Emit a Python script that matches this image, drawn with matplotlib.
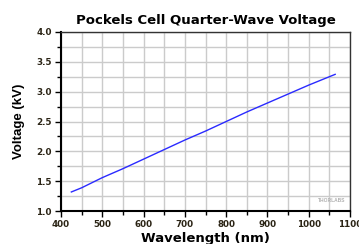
import matplotlib
matplotlib.use("Agg")
import matplotlib.pyplot as plt
from matplotlib.ticker import MultipleLocator

wavelength = [425, 450, 500, 550, 600, 650, 700, 750, 800, 850, 900, 950, 1000, 1064]
voltage = [1.32, 1.39, 1.56, 1.71, 1.87, 2.03, 2.19, 2.34, 2.50, 2.66, 2.81, 2.96, 3.11, 3.29]

plt.rcParams['font.family'] = ['Liberation Sans', 'DejaVu Sans']

fig = plt.figure(figsize=(3.59, 2.44), dpi=100)
ax = fig.add_axes([0.170, 0.135, 0.805, 0.734])

ax.plot(wavelength, voltage, color='#2a2aff', lw=1.0, zorder=3)

ax.set_xlim(400, 1100)
ax.set_ylim(1.0, 4.0)
ax.xaxis.set_major_locator(MultipleLocator(100))
ax.xaxis.set_minor_locator(MultipleLocator(50))
ax.yaxis.set_major_locator(MultipleLocator(0.5))
ax.yaxis.set_minor_locator(MultipleLocator(0.25))
ax.yaxis.set_major_formatter(matplotlib.ticker.FormatStrFormatter('%.1f'))

ax.grid(True, which='both', color='#cbcbcb', lw=1.0, zorder=0)
ax.set_axisbelow(True)

ax.tick_params(which='both', direction='out', colors='black', labelcolor='#2b2415',
               labelsize=6.3, width=1.0, pad=2.5)
ax.tick_params(which='major', length=4)
ax.tick_params(which='minor', length=3)
ax.tick_params(top=False, right=False)
for lab in ax.get_xticklabels() + ax.get_yticklabels():
    lab.set_fontweight('bold')
    lab.set_family(['DejaVu Sans'])

for s in ['left', 'bottom']:
    ax.spines[s].set_linewidth(1.5)
    ax.spines[s].set_color('black')
for s in ['top', 'right']:
    ax.spines[s].set_linewidth(1.0)
    ax.spines[s].set_color('#333333')

ax.set_title('Pockels Cell Quarter-Wave Voltage', fontsize=9.5, fontweight='bold', pad=6,
             family=['DejaVu Sans'])
ax.set_xlabel('Wavelength (nm)', fontsize=9.5, fontweight='bold', labelpad=2,
              family=['DejaVu Sans'])
ax.set_ylabel('Voltage (kV)', fontsize=9.5, fontweight='bold', labelpad=8)

ax.text(0.985, 0.045, 'THORLABS', transform=ax.transAxes, ha='right', va='bottom',
        fontsize=3.5, color='#b0b0b0', fontweight='bold')

fig.savefig('out.png', dpi=100)
